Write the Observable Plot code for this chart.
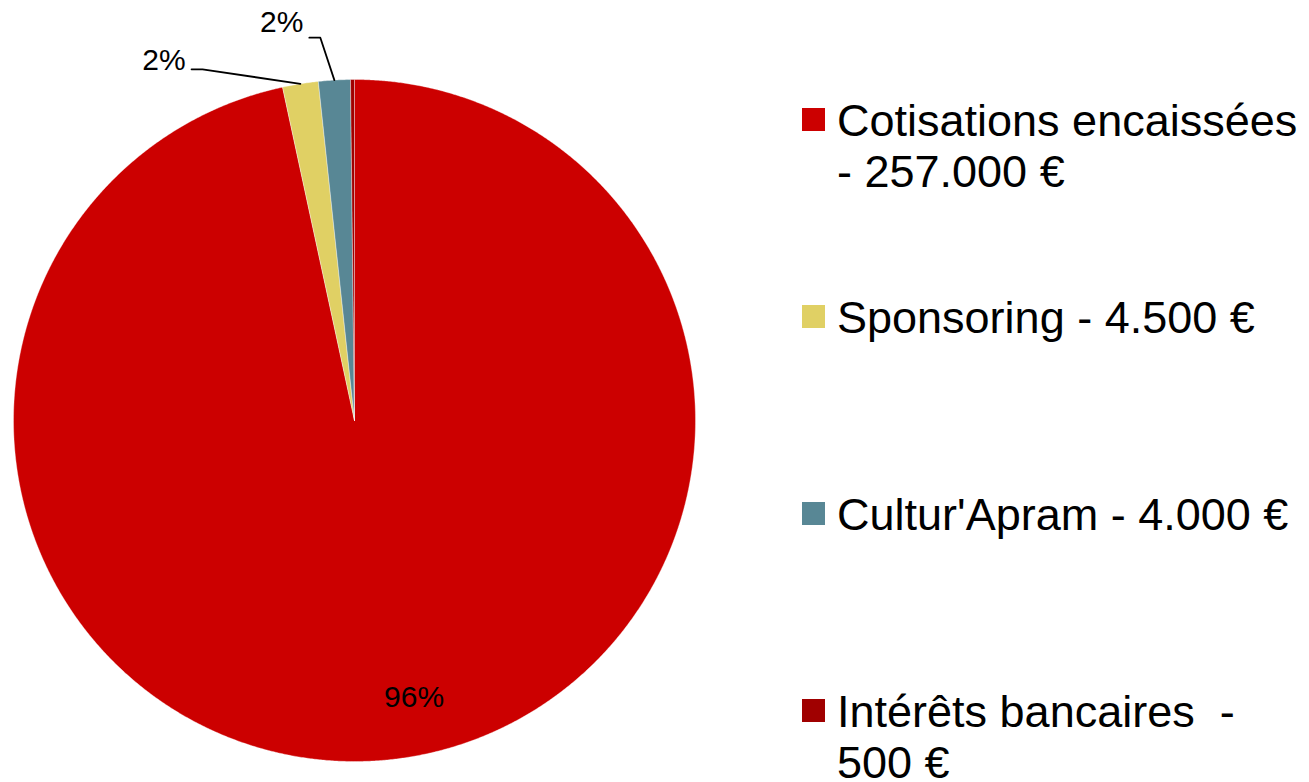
<!DOCTYPE html>
<html>
<head>
<meta charset="utf-8">
<script src="https://cdn.jsdelivr.net/npm/d3@7"></script>
<script src="https://cdn.jsdelivr.net/npm/@observablehq/plot@0.6"></script>
<style>
  html, body { margin: 0; padding: 0; background: #fff; overflow: hidden; }
  #wrap { position: relative; width: 1309px; height: 782px; font-family: "Liberation Sans", Arial, sans-serif; }
  #chart { position: absolute; left: 0; top: 0; }
  .item { position: absolute; left: 837px; width: 475px; font-size: 45px; line-height: 51px; white-space: pre-wrap; color: #000; }
  .sw { position: absolute; left: -35px; top: 13px; width: 23px; height: 23px; }
</style>
</head>
<body>
<div id="wrap"><div id="chart"></div><div id="legend"></div></div>
<script>
// ---- data ----
const categories = ["Cotisations encaissées - 257.000 €", "Sponsoring - 4.500 €", "Cultur'Apram - 4.000 €", "Intérêts bancaires  - 500 €"];
const amounts = [257000, 4500, 4000, 500];
const percentLabels = ["96%", "2%", "2%", ""];
const colors = ["#CC0000", "#E0D064", "#588795", "#A00000"];

// ---- layout constants (label placement) ----
const innerLabelRadius = 0.817;
const outerLeaders = { // elbow in polar form (degrees from top, radius factor), text vertical shift
  1: { angle: -23.4, radius: 1.122, textDy: -9 },
  2: { angle: -5.1, radius: 1.127, textDy: -15 }
};

const rows = categories.map((c, i) => ({ category: c, amount: amounts[i], label: percentLabels[i], index: i }));
const arcs = d3.pie().sort(null).value(d => d.amount)(rows);

// slice polygons
const slicePts = [];
const step = Math.PI / 720;
arcs.forEach(a => {
  const k = a.data.category;
  slicePts.push({ key: k, x: 0, y: 0 });
  const n = Math.max(2, Math.ceil((a.endAngle - a.startAngle) / step));
  for (let j = 0; j <= n; j++) {
    const t = a.startAngle + (a.endAngle - a.startAngle) * j / n;
    slicePts.push({ key: k, x: Math.sin(t), y: Math.cos(t) });
  }
  slicePts.push({ key: k, x: 0, y: 0 });
});

// inner label (largest slice)
const innerLabels = arcs.filter(a => a.data.index === 0).map(a => {
  const m = (a.startAngle + a.endAngle) / 2;
  return { x: innerLabelRadius * Math.sin(m), y: innerLabelRadius * Math.cos(m), text: a.data.label };
});

// outer leader lines and labels
const leaderPts = [];
const outerLabels = [];
arcs.forEach(a => {
  const L = outerLeaders[a.data.index];
  if (!L || !a.data.label) return;
  const m = (a.startAngle + a.endAngle) / 2;
  const ax = Math.sin(m), ay = Math.cos(m);
  const e = L.angle * Math.PI / 180;
  const ex = L.radius * Math.sin(e), ey = L.radius * Math.cos(e);
  const hx = ex - 11 / 341 * 1; // short horizontal segment (pixel length / radius in px)
  leaderPts.push({ key: a.data.category, x: ax, y: ay });
  leaderPts.push({ key: a.data.category, x: ex, y: ey });
  leaderPts.push({ key: a.data.category, x: hx, y: ey });
  outerLabels.push({ x: hx, y: ey, text: a.data.label, dy: L.textDy });
});

const plot = Plot.plot({
  width: 780,
  height: 782,
  marginLeft: 13,
  marginRight: 85,
  marginTop: 79,
  marginBottom: 21,
  x: { domain: [-1, 1], axis: null },
  y: { domain: [-1, 1], axis: null },
  color: { domain: categories, range: colors },
  style: { fontFamily: "'Liberation Sans', Arial, sans-serif", background: "white", overflow: "visible" },
  marks: [
    Plot.line(slicePts, { x: "x", y: "y", z: "key", fill: "key", stroke: "white", strokeWidth: 0.6, strokeOpacity: 0.6, strokeLinejoin: "round" }),
    Plot.line(leaderPts, { x: "x", y: "y", z: "key", stroke: "black", strokeWidth: 1.8 }),
    Plot.text(innerLabels, { x: "x", y: "y", text: "text", fontSize: 30, fill: "black", dx: 30 }),
    Plot.text(outerLabels.filter(d => d.dy === outerLeaders[1].textDy), { x: "x", y: "y", text: "text", fontSize: 30, fill: "black", textAnchor: "end", dx: -6, dy: outerLeaders[1].textDy }),
    Plot.text(outerLabels.filter(d => d.dy === outerLeaders[2].textDy), { x: "x", y: "y", text: "text", fontSize: 30, fill: "black", textAnchor: "end", dx: -6, dy: outerLeaders[2].textDy })
  ]
});
document.getElementById("chart").appendChild(plot);

// legend
const legend = document.getElementById("legend");
categories.forEach((c, i) => {
  const item = document.createElement("div");
  item.className = "item";
  item.style.top = (95 + i * 197) + "px";
  const sw = document.createElement("div");
  sw.className = "sw";
  sw.style.background = colors[i];
  item.appendChild(sw);
  item.appendChild(document.createTextNode(c));
  legend.appendChild(item);
});
</script>
</body>
</html>
